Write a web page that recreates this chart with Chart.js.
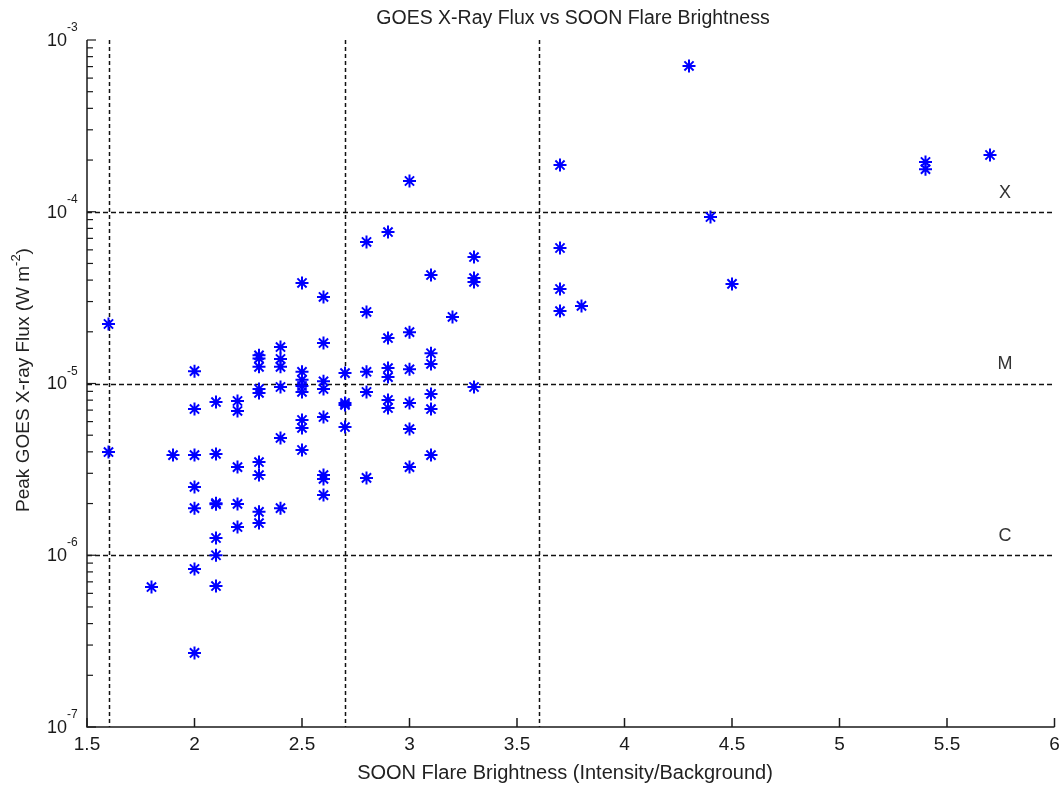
<!DOCTYPE html>
<html>
<head>
<meta charset="utf-8">
<script src="https://cdn.jsdelivr.net/npm/chart.js@4.4.1/dist/chart.umd.min.js"></script>
<style>
  html, body { margin: 0; padding: 0; background: #fff; }
  #wrap { width: 1063px; height: 786px; }
</style>
</head>
<body>
<div id="wrap"><canvas id="chart" width="1063" height="786"></canvas></div>
<script>
// SOON flare brightness (intensity / background)
const brightness = [
  1.6, 1.6,
  1.8,
  1.9,
  2.0, 2.0, 2.0, 2.0, 2.0, 2.0, 2.0,
  2.1, 2.1, 2.1, 2.1, 2.1, 2.1, 2.1,
  2.2, 2.2, 2.2, 2.2, 2.2,
  2.3, 2.3, 2.3, 2.3, 2.3, 2.3, 2.3, 2.3, 2.3,
  2.4, 2.4, 2.4, 2.4, 2.4, 2.4,
  2.5, 2.5, 2.5, 2.5, 2.5, 2.5, 2.5, 2.5,
  2.6, 2.6, 2.6, 2.6, 2.6, 2.6, 2.6, 2.6,
  2.7, 2.7, 2.7, 2.7,
  2.8, 2.8, 2.8, 2.8, 2.8,
  2.9, 2.9, 2.9, 2.9, 2.9, 2.9,
  3.0, 3.0, 3.0, 3.0, 3.0, 3.0,
  3.1, 3.1, 3.1, 3.1, 3.1, 3.1,
  3.2,
  3.3, 3.3, 3.3, 3.3,
  3.7, 3.7, 3.7, 3.7,
  3.8,
  4.3,
  4.4,
  4.5,
  5.4, 5.4,
  5.7
];

// peak GOES X-ray flux (W m^-2)
const peakFlux = [
  2.22e-5, 3.99e-6,
  6.53e-7,
  3.83e-6,
  1.18e-5, 7.10e-6, 3.83e-6, 2.50e-6, 1.88e-6, 8.32e-7, 2.70e-7,
  7.80e-6, 3.89e-6, 2.01e-6, 1.98e-6, 1.26e-6, 1.00e-6, 6.62e-7,
  7.91e-6, 6.92e-6, 3.26e-6, 1.99e-6, 1.46e-6,
  1.46e-5, 1.40e-5, 1.25e-5, 9.29e-6, 8.81e-6, 3.49e-6, 2.93e-6, 1.79e-6, 1.54e-6,
  1.63e-5, 1.39e-5, 1.25e-5, 9.54e-6, 4.82e-6, 1.88e-6,
  3.85e-5, 1.17e-5, 1.05e-5, 9.67e-6, 8.93e-6, 6.13e-6, 5.51e-6, 4.10e-6,
  3.19e-5, 1.72e-5, 1.03e-5, 9.29e-6, 6.38e-6, 2.93e-6, 2.78e-6, 2.24e-6,
  1.15e-5, 7.70e-6, 7.50e-6, 5.58e-6,
  6.67e-5, 2.61e-5, 1.17e-5, 8.93e-6, 2.82e-6,
  7.62e-5, 1.84e-5, 1.23e-5, 1.09e-5, 8.02e-6, 7.20e-6,
  1.51e-4, 1.99e-5, 1.21e-5, 7.70e-6, 5.43e-6, 3.26e-6,
  4.28e-5, 1.50e-5, 1.30e-5, 8.69e-6, 7.10e-6, 3.83e-6,
  2.44e-5,
  5.45e-5, 4.11e-5, 3.90e-5, 9.54e-6,
  1.87e-4, 6.15e-5, 3.55e-5, 2.64e-5,
  2.83e-5,
  7.06e-4,
  9.32e-5,
  3.80e-5,
  1.95e-4, 1.77e-4,
  2.14e-4
];

const xTicks = [1.5, 2, 2.5, 3, 3.5, 4, 4.5, 5, 5.5, 6];
const xTickLabels = ['1.5', '2', '2.5', '3', '3.5', '4', '4.5', '5', '5.5', '6'];
const yExponents = [-7, -6, -5, -4, -3];
const classThresholds = [1e-6, 1e-5, 1e-4];
const classNames = ['C', 'M', 'X'];
const brightnessCuts = [1.6, 2.7, 3.6];
const classLabelX = 5.77;

const FONT = '"Liberation Sans", Arial, Helvetica, sans-serif';
const INK = '#1a1a1a';

const axesPlugin = {
  id: 'matlabAxes',
  beforeDatasetsDraw(chart) {
    const { ctx, chartArea: a, scales: { x, y } } = chart;
    ctx.save();
    ctx.strokeStyle = '#111';
    ctx.lineWidth = 1.5;
    ctx.setLineDash([4, 3]);
    brightnessCuts.forEach(v => {
      const px = Math.round(x.getPixelForValue(v)) + 0.5;
      ctx.beginPath(); ctx.moveTo(px, a.top); ctx.lineTo(px, a.bottom); ctx.stroke();
    });
    ctx.setLineDash([5, 3]);
    classThresholds.forEach(v => {
      const py = Math.round(y.getPixelForValue(v)) + 0.5;
      ctx.beginPath(); ctx.moveTo(a.left, py); ctx.lineTo(a.right, py); ctx.stroke();
    });
    ctx.restore();
  },
  afterDraw(chart) {
    const { ctx, chartArea: a, scales: { x, y } } = chart;
    ctx.save();
    ctx.strokeStyle = INK;
    ctx.fillStyle = INK;
    ctx.lineWidth = 1.5;
    ctx.setLineDash([]);

    // axis lines
    ctx.beginPath();
    ctx.moveTo(a.left, a.top);
    ctx.lineTo(a.left, a.bottom);
    ctx.lineTo(a.right, a.bottom);
    ctx.stroke();

    // x ticks (inward) and labels
    ctx.font = '19px ' + FONT;
    ctx.textAlign = 'center';
    ctx.textBaseline = 'top';
    xTicks.forEach((v, i) => {
      const px = x.getPixelForValue(v);
      ctx.beginPath(); ctx.moveTo(px, a.bottom); ctx.lineTo(px, a.bottom - 9); ctx.stroke();
      ctx.fillText(xTickLabels[i], px, a.bottom + 8);
    });

    // y major + minor ticks (inward) and labels 10^n
    ctx.lineWidth = 1.2;
    yExponents.forEach((e, i) => {
      const base = Math.pow(10, e);
      const py = y.getPixelForValue(base);
      ctx.beginPath(); ctx.moveTo(a.left, py); ctx.lineTo(a.left + 9, py); ctx.stroke();
      if (i < yExponents.length - 1) {
        for (let k = 2; k <= 9; k++) {
          const pm = y.getPixelForValue(k * base);
          ctx.beginPath(); ctx.moveTo(a.left, pm); ctx.lineTo(a.left + 6, pm); ctx.stroke();
        }
      }
      ctx.font = '18px ' + FONT;
      ctx.textAlign = 'right';
      ctx.textBaseline = 'middle';
      ctx.fillText('10', a.left - 20, py + 1);
      ctx.font = '12px ' + FONT;
      ctx.textAlign = 'left';
      ctx.textBaseline = 'alphabetic';
      ctx.fillText(String(e), a.left - 20, py - 9);
    });

    // class labels
    ctx.font = '18px ' + FONT;
    ctx.fillStyle = '#333';
    ctx.textAlign = 'center';
    ctx.textBaseline = 'middle';
    classThresholds.forEach((v, i) => {
      ctx.fillText(classNames[i], x.getPixelForValue(classLabelX), y.getPixelForValue(v) - 19);
    });

    // title
    ctx.fillStyle = '#222';
    ctx.font = '19.5px ' + FONT;
    ctx.textBaseline = 'alphabetic';
    ctx.fillText('GOES X-Ray Flux vs SOON Flare Brightness', 573, 24);

    // x title
    ctx.font = '20px ' + FONT;
    ctx.fillText('SOON Flare Brightness (Intensity/Background)', 565, 779);

    // y title with superscript
    ctx.translate(29, 380);
    ctx.rotate(-Math.PI / 2);
    const main = 'Peak GOES X-ray Flux (W m';
    const sup = '-2';
    const tail = ')';
    ctx.font = '19px ' + FONT;
    const wMain = ctx.measureText(main).width;
    const wTail = ctx.measureText(tail).width;
    ctx.font = '13px ' + FONT;
    const wSup = ctx.measureText(sup).width;
    const sx = -(wMain + wSup + wTail) / 2;
    ctx.textAlign = 'left';
    ctx.font = '19px ' + FONT;
    ctx.fillText(main, sx, 0);
    ctx.font = '13px ' + FONT;
    ctx.fillText(sup, sx + wMain, -9);
    ctx.font = '19px ' + FONT;
    ctx.fillText(tail, sx + wMain + wSup, 0);
    ctx.restore();
  }
};

new Chart(document.getElementById('chart'), {
  type: 'scatter',
  data: {
    datasets: [{
      data: brightness.map((b, i) => ({ x: b, y: peakFlux[i] })),
      pointStyle: 'star',
      pointRadius: 6.5,
      pointHoverRadius: 6.5,
      borderColor: '#0000ff',
      backgroundColor: '#0000ff',
      borderWidth: 2
    }]
  },
  options: {
    responsive: false,
    animation: false,
    devicePixelRatio: 1,
    layout: { padding: { left: 87, top: 40, right: 7, bottom: 59 } },
    plugins: { legend: { display: false }, tooltip: { enabled: false } },
    scales: {
      x: { type: 'linear', min: 1.5, max: 6, display: false },
      y: { type: 'logarithmic', min: 1e-7, max: 1e-3, display: false }
    }
  },
  plugins: [axesPlugin]
});
</script>
</body>
</html>
